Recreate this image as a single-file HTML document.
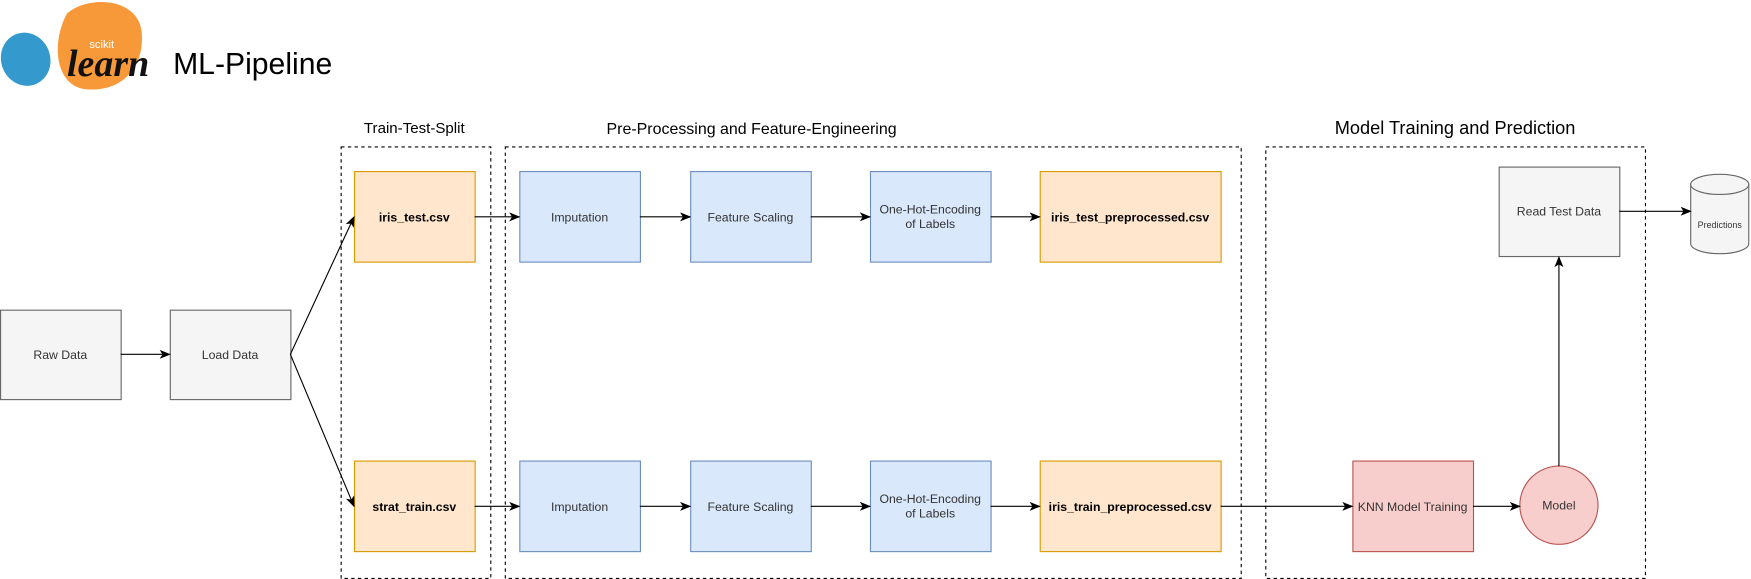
<!DOCTYPE html>
<html><head><meta charset="utf-8"><style>
html,body{margin:0;padding:0;background:#fff;}
svg{display:block;}
text{font-family:"Liberation Sans",sans-serif;}
</style></head><body>
<svg width="1751" height="579" viewBox="0 0 1568 518" preserveAspectRatio="none" xmlns="http://www.w3.org/2000/svg">
<defs>
<marker id="a" markerWidth="10" markerHeight="10" refX="9" refY="5" orient="auto" markerUnits="userSpaceOnUse">
<path d="M0,1 L10,5 L0,9 L2.5,5 Z" fill="#000"/>
</marker>
</defs>
<!-- logo -->
<ellipse cx="23" cy="53" rx="22" ry="24" fill="#3499cd" transform="rotate(-20 23 53)"/>
<path d="M60,12 C80,-5 125,-2 127,30 C129,60 110,82 78,80 C50,78 45,40 60,12 Z" fill="#f89939"/>
<text x="80" y="43" font-size="10" fill="#fff">scikit</text>
<text x="60" y="68" font-size="34" font-style="italic" font-weight="bold" fill="#111" style="font-family:'Liberation Serif',serif">learn</text>
<text x="155" y="66" font-size="27" fill="#000">ML-Pipeline</text>
<!-- group titles -->
<text x="371" y="119" font-size="13.5" text-anchor="middle">Train-Test-Split</text>
<text x="673" y="120" font-size="14.3" text-anchor="middle">Pre-Processing and Feature-Engineering</text>
<text x="1303" y="120" font-size="16.3" text-anchor="middle">Model Training and Prediction</text>
<g fill="none" stroke="#000" stroke-dasharray="3,3">
<rect x="305.5" y="131.5" width="134" height="386"/>
<rect x="452.5" y="131.5" width="659" height="386"/>
<rect x="1133.5" y="131.5" width="340" height="386"/>
</g>
<!-- gray boxes -->
<g stroke="#666" fill="#f5f5f5">
<rect x="0.5" y="277.5" width="108" height="80"/>
<rect x="152.5" y="277.5" width="108" height="80"/>
<rect x="1342.5" y="149.5" width="108" height="80"/>
</g>
<g stroke="#d79b00" fill="#ffe6cc">
<rect x="317.5" y="153.5" width="108" height="81"/>
<rect x="317.5" y="412.5" width="108" height="81"/>
<rect x="931.5" y="153.5" width="162" height="81"/>
<rect x="931.5" y="412.5" width="162" height="81"/>
</g>
<g stroke="#6c8ebf" fill="#dae8fc">
<rect x="465.5" y="153.5" width="108" height="81"/>
<rect x="618.5" y="153.5" width="108" height="81"/>
<rect x="779.5" y="153.5" width="108" height="81"/>
<rect x="465.5" y="412.5" width="108" height="81"/>
<rect x="618.5" y="412.5" width="108" height="81"/>
<rect x="779.5" y="412.5" width="108" height="81"/>
</g>
<rect x="1211.5" y="412.5" width="108" height="81" stroke="#b85450" fill="#f8cecc"/>
<circle cx="1396" cy="452" r="35" stroke="#b85450" fill="#f8cecc"/>
<!-- cylinder -->
<path d="M1514,165 L1514,218 A26,9 0 0 0 1566,218 L1566,165" stroke="#666" fill="#f5f5f5"/>
<ellipse cx="1540" cy="165" rx="26" ry="9" stroke="#666" fill="#f5f5f5"/>
<!-- arrows -->
<g stroke="#000" fill="none" marker-end="url(#a)">
<line x1="108" y1="317" x2="152" y2="317"/>
<line x1="260" y1="317" x2="317" y2="194"/>
<line x1="260" y1="317" x2="317" y2="453"/>
<line x1="425" y1="194" x2="465" y2="194"/>
<line x1="573" y1="194" x2="618" y2="194"/>
<line x1="726" y1="194" x2="779" y2="194"/>
<line x1="887" y1="194" x2="931" y2="194"/>
<line x1="425" y1="453" x2="465" y2="453"/>
<line x1="573" y1="453" x2="618" y2="453"/>
<line x1="726" y1="453" x2="779" y2="453"/>
<line x1="887" y1="453" x2="931" y2="453"/>
<line x1="1093" y1="453" x2="1211" y2="453"/>
<line x1="1319" y1="453" x2="1361" y2="453"/>
<line x1="1396" y1="417" x2="1396" y2="230"/>
<line x1="1450" y1="189" x2="1514" y2="189"/>
</g>
<!-- labels -->
<g font-size="11" fill="#333" text-anchor="middle">
<text x="54" y="321">Raw Data</text>
<text x="206" y="321">Load Data</text>
<text x="1396" y="193">Read Test Data</text>
<text x="519" y="198">Imputation</text>
<text x="672" y="198">Feature Scaling</text>
<text x="833" y="191">One-Hot-Encoding</text>
<text x="833" y="204">of Labels</text>
<text x="519" y="457">Imputation</text>
<text x="672" y="457">Feature Scaling</text>
<text x="833" y="450">One-Hot-Encoding</text>
<text x="833" y="463">of Labels</text>
<text x="1265" y="457">KNN Model Training</text>
<text x="1396" y="456">Model</text>
<text x="1540" y="204" font-size="8">Predictions</text>
</g>
<g font-size="11" font-weight="bold" fill="#000" text-anchor="middle">
<text x="371" y="198">iris_test.csv</text>
<text x="371" y="457">strat_train.csv</text>
<text x="1012" y="198">iris_test_preprocessed.csv</text>
<text x="1012" y="457">iris_train_preprocessed.csv</text>
</g>
</svg>
</body></html>
